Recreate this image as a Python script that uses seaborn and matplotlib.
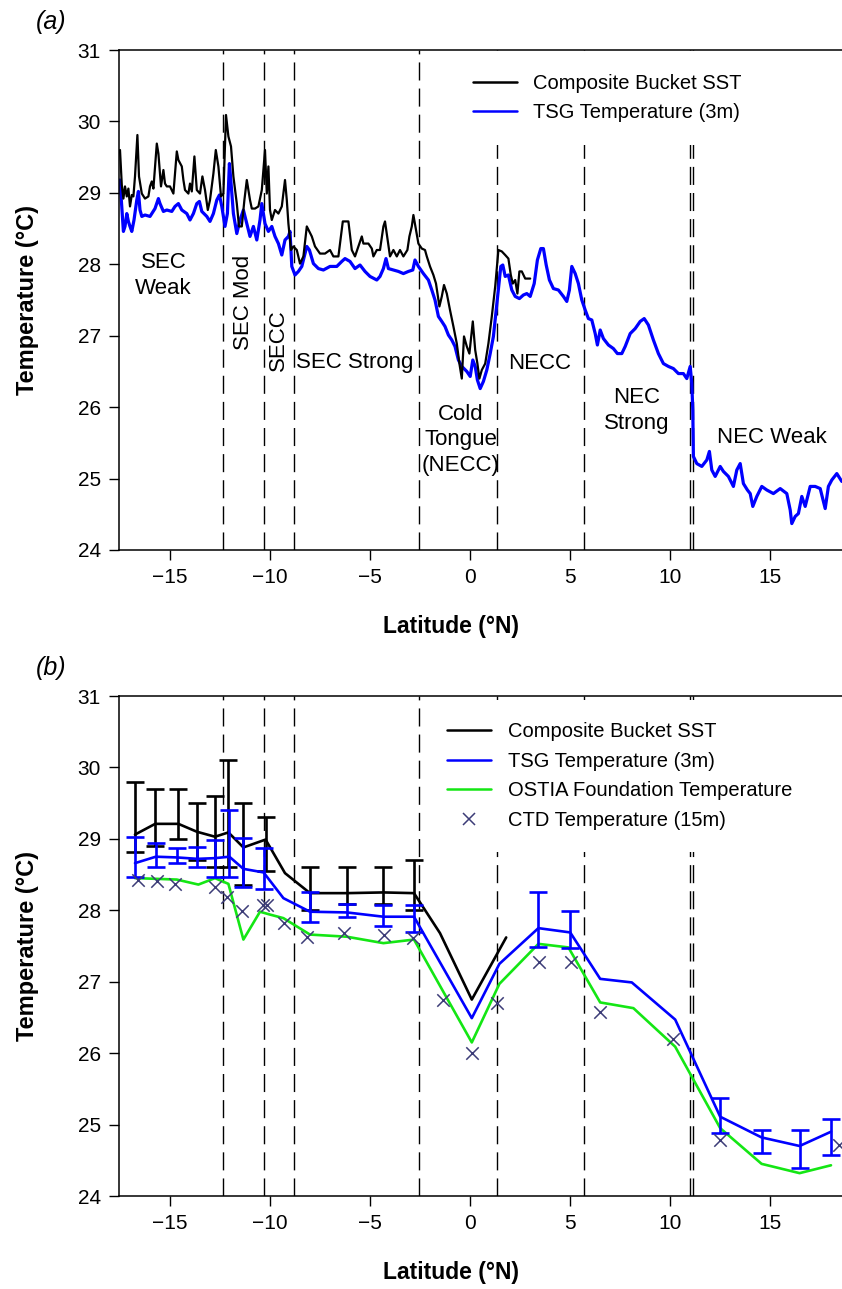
import matplotlib
matplotlib.use("Agg")
import matplotlib.pyplot as plt
from matplotlib.lines import Line2D
import numpy as np
import seaborn as sns

# ---------------- data ----------------
# (a) along-track series
tsg_lat = [
    -17.48, -17.31, -17.23, -17.14, -17.06, -16.98, -16.89, -16.78, -16.64, -16.56,
    -16.48, -16.39, -16.23, -15.98, -15.73, -15.56, -15.48, -15.31, -15.14, -14.89,
    -14.73, -14.56, -14.39, -14.14, -13.98, -13.81, -13.64, -13.51, -13.39, -13.14,
    -12.98, -12.81, -12.64, -12.51, -12.39, -12.23, -12.11, -12.01, -11.94, -11.81,
    -11.64, -11.48, -11.31, -11.14, -10.98, -10.81, -10.64, -10.48, -10.39, -10.23,
    -10.06, -9.89, -9.73, -9.56, -9.39, -9.23, -9.06, -8.98, -8.89, -8.73,
    -8.56, -8.39, -8.14, -8.01, -7.81, -7.56, -7.31,
    -6.98, -6.64, -6.39, -6.23, -5.98, -5.73, -5.48, -5.23, -4.98, -4.64,
    -4.48, -4.31, -4.18, -4.06, -3.81, -3.56, -3.31, -3.06, -2.84, -2.73,
    -2.56, -2.31, -2.06, -1.89, -1.73, -1.56, -1.39, -1.23, -1.06, -0.89,
    -0.73, -0.56, -0.39, -0.14, 0.03, 0.16, 0.28, 0.39, 0.53, 0.69,
    0.86, 1.03, 1.19, 1.33, 1.44, 1.56, 1.66, 1.78, 1.94, 2.11,
    2.28, 2.49, 2.69, 2.86, 3.03, 3.23, 3.39, 3.56, 3.69, 3.83,
    3.99, 4.19, 4.44, 4.69, 4.86, 4.99, 5.11, 5.28, 5.44,
    5.61, 5.78, 5.94, 6.11, 6.28, 6.39, 6.53, 6.69, 6.94, 7.19,
    7.39, 7.61, 7.78, 8.03, 8.28, 8.53, 8.73, 8.94, 9.19, 9.44,
    9.69, 9.94, 10.19, 10.44, 10.69, 10.86, 11.03, 11.11, 11.16, 11.19,
    11.36, 11.61, 11.86, 11.99, 12.11, 12.28, 12.53, 12.69, 12.94, 13.19,
    13.36, 13.53, 13.69, 13.89, 14.03, 14.16, 14.36, 14.61, 14.86, 15.19,
    15.53, 15.86, 16.03, 16.11, 16.28, 16.44, 16.61, 16.78, 17.03, 17.28,
    17.53, 17.78, 17.94, 18.11, 18.36, 18.61,
]
tsg_temp = [
    29.18, 28.46, 28.53, 28.71, 28.60, 28.53, 28.46, 28.62, 28.90, 29.02,
    28.76, 28.67, 28.69, 28.67, 28.78, 28.92, 28.85, 28.74, 28.76, 28.74,
    28.81, 28.85, 28.76, 28.71, 28.62, 28.71, 28.85, 28.88, 28.74, 28.67,
    28.60, 28.71, 28.90, 28.97, 28.81, 28.53, 28.71, 29.41, 29.18, 28.71,
    28.43, 28.62, 28.76, 28.57, 28.39, 28.53, 28.34, 28.62, 28.85, 28.57,
    28.46, 28.53, 28.39, 28.29, 28.13, 28.34, 28.39, 28.46, 27.97, 27.85,
    27.90, 27.97, 28.25, 28.20, 28.01, 27.94, 27.92,
    27.97, 27.97, 28.04, 28.08, 28.04, 27.94, 27.99, 27.90, 27.83, 27.78,
    27.83, 27.94, 28.08, 27.94, 27.92, 27.90, 27.87, 27.90, 27.92, 28.06,
    27.97, 27.87, 27.78, 27.64, 27.50, 27.27, 27.20, 27.13, 27.01, 26.94,
    26.85, 26.66, 26.57, 26.50, 26.43, 26.66, 26.57, 26.38, 26.26, 26.36,
    26.52, 26.75, 26.99, 27.36, 27.64, 27.97, 27.99, 27.83, 27.85, 27.64,
    27.55, 27.52, 27.57, 27.59, 27.55, 27.73, 28.06, 28.22, 28.22, 27.99,
    27.78, 27.66, 27.64, 27.55, 27.48, 27.64, 27.97, 27.87, 27.73,
    27.50, 27.36, 27.24, 27.22, 27.03, 26.87, 27.08, 26.96, 26.87, 26.82,
    26.75, 26.75, 26.85, 27.03, 27.10, 27.20, 27.24, 27.15, 26.94, 26.75,
    26.61, 26.57, 26.54, 26.47, 26.47, 26.40, 26.57, 26.33, 25.96, 25.31,
    25.21, 25.17, 25.26, 25.38, 25.12, 25.03, 25.17, 25.10, 25.03, 24.89,
    25.12, 25.21, 24.93, 24.84, 24.79, 24.61, 24.75, 24.89, 24.84, 24.79,
    24.86, 24.79, 24.56, 24.37, 24.47, 24.51, 24.75, 24.61, 24.89, 24.89,
    24.86, 24.58, 24.89, 24.98, 25.07, 24.96,
]

bucket_lat = [
    -17.48, -17.39, -17.31, -17.23, -17.14, -17.06, -16.98, -16.89, -16.81, -16.73,
    -16.61, -16.53, -16.39, -16.23, -16.06, -15.98, -15.89, -15.81, -15.64, -15.56,
    -15.43, -15.31, -15.23, -15.14, -14.98, -14.81, -14.64, -14.56, -14.39, -14.31,
    -14.23, -14.06, -13.98, -13.89, -13.76, -13.64, -13.48, -13.36, -13.23, -13.09,
    -12.98, -12.81, -12.69, -12.56, -12.43, -12.31, -12.18, -12.06, -11.93, -11.81,
    -11.64, -11.53, -11.39, -11.26, -11.14, -11.06, -10.98, -10.89, -10.73, -10.56,
    -10.39, -10.31, -10.23, -10.14, -10.06, -9.98, -9.89, -9.73, -9.56, -9.39,
    -9.31, -9.23, -9.14, -9.06, -8.93, -8.81, -8.64, -8.48, -8.31, -8.14,
    -7.89, -7.73, -7.48, -7.23, -6.98, -6.81,
    -6.56, -6.34, -6.06, -5.89, -5.73, -5.56, -5.39, -5.31, -5.06, -4.89,
    -4.81, -4.64, -4.48, -4.31, -4.23, -4.11, -3.98, -3.81, -3.64, -3.48,
    -3.31, -3.11, -3.01, -2.89, -2.81, -2.68, -2.56, -2.39, -2.23, -2.14,
    -1.98, -1.81, -1.68, -1.51, -1.39, -1.28, -1.14, -0.98, -0.81, -0.64,
    -0.51, -0.39, -0.28, -0.14, -0.01, 0.16, 0.28, 0.39, 0.49, 0.61,
    0.78, 0.94, 1.11, 1.28, 1.44, 1.61, 1.78, 1.94, 2.06, 2.16,
    2.28, 2.39, 2.49, 2.61, 2.78, 3.03,
]
bucket_temp = [
    29.60, 29.11, 28.92, 29.09, 28.95, 29.06, 28.81, 28.97, 28.95, 29.23,
    29.81, 29.23, 28.99, 28.92, 28.95, 29.09, 29.16, 29.06, 29.69, 29.55,
    29.09, 29.32, 29.13, 29.09, 29.09, 28.99, 29.58, 29.46, 29.37, 29.18,
    29.04, 28.99, 29.13, 29.02, 29.51, 29.04, 28.99, 29.23, 29.04, 28.76,
    28.90, 29.27, 29.60, 29.37, 28.95, 28.99, 30.09, 29.79, 29.65, 29.23,
    28.85, 28.53, 28.53, 28.90, 29.18, 29.04, 28.90, 28.78, 28.78, 28.81,
    29.04, 29.32, 29.60, 28.99, 29.37, 28.76, 28.62, 28.76, 28.71, 28.81,
    28.99, 29.18, 28.90, 28.57, 28.20, 28.25, 28.20, 28.01, 28.11, 28.53,
    28.39, 28.25, 28.15, 28.15, 28.20, 28.11,
    28.11, 28.60, 28.60, 28.20, 28.11, 28.25, 28.39, 28.29, 28.29, 28.22,
    28.11, 28.20, 28.20, 28.53, 28.60, 28.36, 28.11, 28.20, 28.11, 28.20,
    28.11, 28.20, 28.39, 28.53, 28.69, 28.48, 28.29, 28.22, 28.20, 28.11,
    27.97, 27.85, 27.73, 27.41, 27.55, 27.71, 27.59, 27.36, 27.13, 26.89,
    26.61, 26.40, 26.99, 26.85, 26.75, 27.20, 26.80, 26.61, 26.40, 26.52,
    26.61, 26.89, 27.27, 27.69, 28.20, 28.18, 28.13, 28.08, 27.85, 27.73,
    27.78, 27.59, 27.90, 27.90, 27.80, 27.80,
]

# (b) binned means
bucket_bin_lat = [-16.73, -15.72, -14.56, -13.64, -12.73, -12.06, -11.31, -10.20,
                  -9.23, -7.98, -6.14, -4.31, -2.78, -1.48, 0.11, 1.83]
bucket_bin_mean = [29.06, 29.21, 29.21, 29.10, 29.03, 29.09, 28.88, 28.99,
                   28.52, 28.24, 28.24, 28.25, 28.24, 27.68, 26.75, 27.62]
bucket_err_lat = [-16.73, -15.72, -14.56, -13.64, -12.73, -12.06, -11.31, -10.20,
                  -7.98, -6.14, -4.31, -2.78]
bucket_err_mean = [29.06, 29.21, 29.21, 29.10, 29.03, 29.09, 28.88, 28.99,
                   28.24, 28.24, 28.25, 28.24]
bucket_err_low = [28.81, 28.90, 29.00, 28.71, 28.60, 28.60, 28.35, 28.55,
                  28.01, 28.09, 28.09, 28.00]
bucket_err_high = [29.80, 29.70, 29.70, 29.50, 29.60, 30.10, 29.50, 29.30,
                   28.60, 28.60, 28.60, 28.70]

tsg_bin_lat = [-16.73, -15.69, -14.64, -13.61, -12.73, -12.01, -11.31, -10.30,
               -9.31, -7.98, -6.14, -4.31, -2.78, 0.11, 1.49, 3.44, 5.03,
               6.53, 8.11, 10.28, 12.53, 14.60, 16.50, 18.07]
tsg_bin_mean = [28.66, 28.75, 28.74, 28.72, 28.73, 28.75, 28.58, 28.53,
                28.17, 27.98, 27.97, 27.91, 27.91, 26.49, 27.25, 27.75, 27.69,
                27.04, 26.99, 26.47, 25.11, 24.82, 24.70, 24.90]
tsg_err_lat = [-16.73, -15.69, -14.64, -13.61, -12.73, -12.01, -11.31, -10.30,
               -7.98, -6.14, -4.31, -2.78, 3.44, 5.03, 12.53, 14.60, 16.50, 18.07]
tsg_err_mean = [28.66, 28.75, 28.74, 28.72, 28.73, 28.75, 28.58, 28.53,
                27.98, 27.97, 27.91, 27.91, 27.75, 27.69, 25.11, 24.82, 24.70, 24.90]
tsg_err_low = [28.47, 28.61, 28.66, 28.60, 28.47, 28.46, 28.33, 28.30,
               27.83, 27.90, 27.78, 27.70, 27.49, 27.47, 24.88, 24.60, 24.39, 24.58]
tsg_err_high = [29.03, 28.94, 28.87, 28.89, 28.99, 29.41, 29.01, 28.87,
                28.26, 28.09, 28.08, 28.08, 28.26, 27.99, 25.37, 24.93, 24.92, 25.08]

ostia_lat = [-16.73, -15.64, -14.64, -13.56, -12.73, -12.06, -11.31, -10.48,
             -9.98, -9.31, -7.98, -6.14, -4.31, -2.78, 0.11, 1.49, 3.44, 4.94,
             6.53, 8.19, 10.28, 12.53, 14.60, 16.50, 18.07]
ostia_temp = [28.45, 28.44, 28.43, 28.36, 28.45, 28.37, 27.59, 27.98,
              27.94, 27.89, 27.66, 27.63, 27.54, 27.59, 26.15, 26.97, 27.53, 27.48,
              26.71, 26.63, 26.09, 24.95, 24.45, 24.32, 24.43]

ctd_lat = [-16.56, -15.64, -14.73, -12.73, -12.14, -11.36, -10.34, -10.14, -9.28,
           -8.11, -6.28, -4.26, -2.81, -1.34, 0.10, 1.36, 3.49, 5.06, 6.53,
           10.19, 12.53, 18.45]
ctd_temp = [28.42, 28.41, 28.37, 28.33, 28.18, 27.99, 28.08, 28.08, 27.82,
            27.63, 27.68, 27.66, 27.61, 26.75, 26.00, 26.70, 27.28, 27.28, 26.57,
            26.20, 24.78, 24.72]

# current regime boundaries (deg N)
boundaries = [-12.33, -10.27, -8.79, -2.51, 1.35, 5.72, 11.03, 11.19]

region_names = ["SEC\nWeak", "SEC Mod", "SECC", "SEC Strong", "Cold\nTongue\n(NECC)",
                "NECC", "NEC\nStrong", "NEC Weak"]
region_lat = [-15.3, -11.3, -9.58, -5.73, -0.43, 3.52, 8.37, 15.1]
region_temp = [27.84, 27.47, 26.94, 26.62, 25.54, 26.61, 25.95, 25.58]
region_rot = [0, 90, 90, 0, 0, 0, 0, 0]

yticks = [24, 25, 26, 27, 28, 29, 30, 31]
xticks = [-15, -10, -5, 0, 5, 10, 15]

# ---------------- style ----------------
sns.set_theme(style="ticks")
plt.rcParams["font.family"] = ["Liberation Sans", "DejaVu Sans"]
plt.rcParams.update({
    "axes.linewidth": 1.1,
    "text.color": "black",
    "axes.labelcolor": "black",
    "xtick.color": "black",
    "ytick.color": "black",
    "axes.edgecolor": "black",
})

W, H = 842, 1289
fig = plt.figure(figsize=(W / 100, H / 100), dpi=100)

C_BUCKET = "black"
C_TSG = "#0000ff"
C_OSTIA = "#14e614"
C_CTD = "#3c3c78"
DASH = (0, (13, 5.8))


def make_axes(top_px, bottom_px):
    left = 119 / W
    return fig.add_axes([left, 1 - bottom_px / H, 1 - left, (bottom_px - top_px) / H])


def style_axes(ax):
    ax.set_xlim(-17.53, 18.62)
    ax.set_ylim(24, 31)
    ax.set_xticks(xticks)
    ax.set_yticks(yticks)
    ax.tick_params(direction="out", length=7, width=1.0, labelsize=15, pad=6,
                   colors="black")
    ax.spines["right"].set_visible(False)
    ax.set_xlabel("")
    ax.set_ylabel("")
    for b in boundaries:
        ax.axvline(b, color="black", lw=1.0, ls=DASH, zorder=1)


def legend_box(ax, handles, labels, left_px, top_px, pad):
    leg = ax.legend(handles=handles, labels=labels, loc="upper left",
                    bbox_to_anchor=(left_px / W, 1 - top_px / H),
                    bbox_transform=fig.transFigure, fontsize=14.5, frameon=True,
                    facecolor="white", edgecolor="none", framealpha=1.0,
                    fancybox=False, borderpad=pad, handlelength=2.2,
                    handletextpad=0.8, labelspacing=0.52, borderaxespad=0)
    leg.set_zorder(6)
    for t in leg.get_texts():
        t.set_color("black")
    return leg


# ---------------- panel (a) ----------------
ax_a = make_axes(50, 550)
style_axes(ax_a)
sns.lineplot(x=bucket_lat, y=bucket_temp, ax=ax_a, color=C_BUCKET, lw=1.6,
             sort=False, estimator=None, zorder=3)
sns.lineplot(x=tsg_lat, y=tsg_temp, ax=ax_a, color=C_TSG, lw=2.3,
             sort=False, estimator=None, zorder=2)
for name, la, te, rot in zip(region_names, region_lat, region_temp, region_rot):
    ax_a.text(la, te, name, ha="center", va="center", rotation=rot, color="black",
              fontsize=16, linespacing=1.28, zorder=4)

legend_box(ax_a,
           [Line2D([], [], color=C_BUCKET, lw=1.8),
            Line2D([], [], color=C_TSG, lw=1.8)],
           ["Composite Bucket SST", "TSG Temperature (3m)"],
           450, 51, 1.12)

# ---------------- panel (b) ----------------
ax_b = make_axes(696, 1196)
style_axes(ax_b)
sns.lineplot(x=ostia_lat, y=ostia_temp, ax=ax_b, color=C_OSTIA, lw=1.9,
             sort=False, estimator=None, zorder=2)
sns.lineplot(x=bucket_bin_lat, y=bucket_bin_mean, ax=ax_b, color=C_BUCKET, lw=1.9,
             sort=False, estimator=None, zorder=3)
sns.lineplot(x=tsg_bin_lat, y=tsg_bin_mean, ax=ax_b, color=C_TSG, lw=1.9,
             sort=False, estimator=None, zorder=4)

b_mean = np.array(bucket_err_mean)
ax_b.errorbar(bucket_err_lat, b_mean,
              yerr=[b_mean - np.array(bucket_err_low), np.array(bucket_err_high) - b_mean],
              fmt="none", ecolor=C_BUCKET, elinewidth=1.9, capsize=6.5, capthick=1.9,
              zorder=3)
t_mean = np.array(tsg_err_mean)
ax_b.errorbar(tsg_err_lat, t_mean,
              yerr=[t_mean - np.array(tsg_err_low), np.array(tsg_err_high) - t_mean],
              fmt="none", ecolor=C_TSG, elinewidth=1.9, capsize=6.5, capthick=1.9,
              zorder=4)
sns.scatterplot(x=ctd_lat, y=ctd_temp, ax=ax_b, marker="x", s=80, color=C_CTD,
                linewidth=1.1, zorder=5)

legend_box(ax_b,
           [Line2D([], [], color=C_BUCKET, lw=1.8),
            Line2D([], [], color=C_TSG, lw=1.8),
            Line2D([], [], color=C_OSTIA, lw=1.8),
            Line2D([], [], color=C_CTD, lw=0, marker="x", markersize=9,
                   markeredgewidth=1.1)],
           ["Composite Bucket SST", "TSG Temperature (3m)",
            "OSTIA Foundation Temperature", "CTD Temperature (15m)"],
           425, 700, 1.1)

# ---------------- labels ----------------
for ax, ycen, xl_y, tag_y, tag in ((ax_a, 300, 627, 22, "(a)"),
                                    (ax_b, 946, 1273, 668, "(b)")):
    fig.text(28 / W, 1 - ycen / H, "Temperature (°C)", rotation=90, ha="center",
             va="center", fontsize=17, fontweight="bold")
    fig.text(451 / W, 1 - xl_y / H, "Latitude (°N)", ha="center", va="center",
             fontsize=16.5, fontweight="bold")
    fig.text(51 / W, 1 - tag_y / H, tag, ha="center", va="center", fontsize=18,
             style="italic")

fig.savefig("out.png", dpi=100, facecolor="white")
